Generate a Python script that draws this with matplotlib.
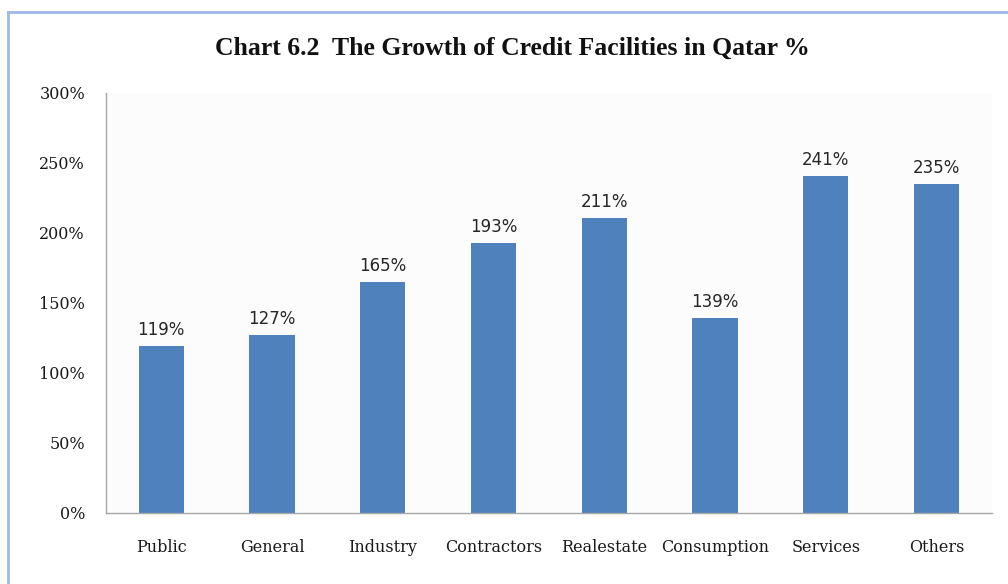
import matplotlib.pyplot as plt
import numpy as np
from matplotlib.lines import Line2D

categories = ["Public", "General", "Industry", "Contractors", "Realestate",
              "Consumption", "Services", "Others"]
growth = [119, 127, 165, 193, 211, 139, 241, 235]
yticks = [0, 50, 100, 150, 200, 250, 300]

bar_color = "#4F81BD"
serif = "DejaVu Serif"


def visualize():
    fig = plt.figure(figsize=(10.08, 5.84), dpi=100)
    ax = fig.add_axes([0.105, 0.1216, 0.879, 0.7192])

    x = np.arange(len(categories))
    ax.bar(x, growth, width=0.41, color=bar_color, zorder=2)

    for xi, v in zip(x, growth):
        ax.annotate(f"{v}%", (xi, v), xytext=(0, 5), textcoords="offset points",
                    ha="center", va="bottom", fontsize=12,
                    family="DejaVu Sans", color="#262626")

    ax.set_xlim(-0.5, len(categories) - 0.5)
    ax.set_ylim(0, 300)
    ax.set_yticks(yticks)
    ax.set_yticklabels([f"{t}%" for t in yticks], family=serif, fontsize=11.5)
    ax.set_xticks(x)
    ax.set_xticklabels(categories, family=serif, fontsize=11.5)
    ax.tick_params(axis="y", length=0, pad=15, colors="#1a1a1a")
    ax.tick_params(axis="x", length=0, pad=19, colors="#1a1a1a")

    ax.set_facecolor("#FCFCFC")
    for s in ["top", "right"]:
        ax.spines[s].set_visible(False)
    for s in ["left", "bottom"]:
        ax.spines[s].set_color("#A6A6A6")
        ax.spines[s].set_linewidth(1.0)

    fig.text(0.508, 0.918, "Chart 6.2  The Growth of Credit Facilities in Qatar %",
             ha="center", va="center", family="Liberation Serif", fontweight="bold",
             fontsize=18.5, color="#111111")

    # frame lines of the chart box
    fig.add_artist(Line2D([0.008, 1.0], [0.979, 0.979], transform=fig.transFigure,
                          color="#9DB9E5", linewidth=2))
    fig.add_artist(Line2D([0.008, 0.008], [0.0, 0.979], transform=fig.transFigure,
                          color="#9DB9E5", linewidth=2))

    fig.savefig("out.png", dpi=100)


visualize()
